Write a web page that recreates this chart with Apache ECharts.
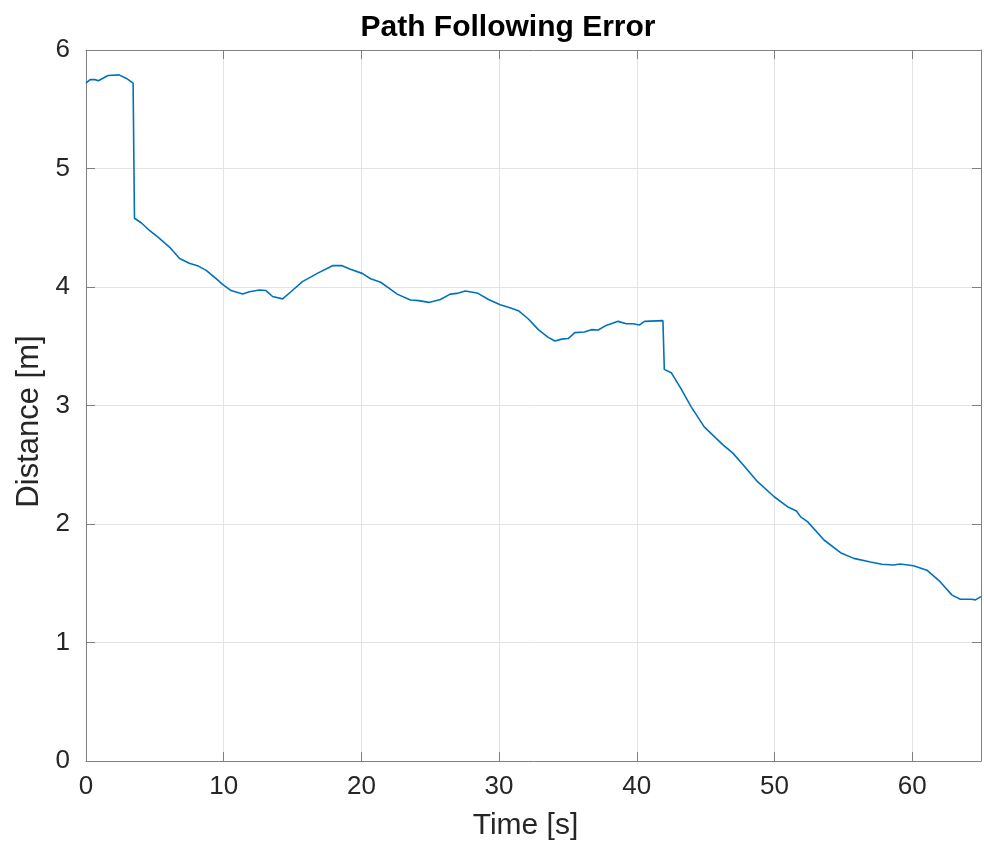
<!DOCTYPE html>
<html>
<head>
<meta charset="utf-8">
<script src="https://cdn.jsdelivr.net/npm/echarts@6/dist/echarts.min.js"></script>
<style>
html,body{margin:0;padding:0;background:#fff;}
#chart{width:984px;height:846px;}
</style>
</head>
<body>
<div id="chart"></div>
<script>
var timeS = [0, 0.3, 0.65, 0.9, 1.6, 2.4, 2.94, 3.42, 3.52, 4.03, 4.63, 5.23, 6.08, 6.8, 7.5, 8.1, 8.73, 9.45, 9.94, 10.54, 11.38, 11.87, 12.6, 13.07, 13.55, 14.28, 14.88, 15.72, 16.8, 17.9, 18.6, 19.2, 20.06, 20.67, 21.4, 22.0, 22.6, 23.56, 24.17, 24.9, 25.74, 26.45, 26.94, 27.54, 28.4, 29.24, 30.08, 30.68, 31.4, 32.13, 32.85, 33.57, 34.06, 34.54, 35.02, 35.5, 36.2, 36.7, 37.2, 37.68, 38.64, 39.24, 39.72, 40.2, 40.57, 41.9, 42.0, 42.5, 43.2, 43.94, 44.9, 46.24, 46.96, 47.8, 48.77, 49.98, 50.94, 51.6, 51.9, 52.4, 53.6, 54.8, 55.76, 56.97, 57.8, 58.65, 59.13, 60.1, 61.07, 62.03, 62.9, 63.5, 64.3, 64.6, 65];
var distanceM = [5.72, 5.75, 5.75, 5.74, 5.785, 5.79, 5.76, 5.72, 4.58, 4.54, 4.475, 4.42, 4.335, 4.24, 4.20, 4.18, 4.14, 4.07, 4.02, 3.97, 3.94, 3.96, 3.975, 3.97, 3.92, 3.90, 3.96, 4.045, 4.115, 4.18, 4.18, 4.15, 4.115, 4.07, 4.04, 3.99, 3.94, 3.89, 3.885, 3.87, 3.895, 3.94, 3.946, 3.966, 3.95, 3.895, 3.85, 3.83, 3.80, 3.73, 3.64, 3.575, 3.545, 3.56, 3.565, 3.615, 3.62, 3.64, 3.637, 3.67, 3.71, 3.69, 3.69, 3.68, 3.71, 3.716, 3.305, 3.277, 3.145, 2.99, 2.82, 2.67, 2.60, 2.49, 2.357, 2.23, 2.146, 2.11, 2.06, 2.02, 1.865, 1.758, 1.71, 1.68, 1.66, 1.654, 1.662, 1.648, 1.61, 1.513, 1.40, 1.365, 1.365, 1.36, 1.387];
var xTicks = [0, 10, 20, 30, 40, 50, 60];
var yTicks = [0, 1, 2, 3, 4, 5, 6];

var FONT = '"Liberation Sans", Arial, Helvetica, sans-serif';
var points = timeS.map(function (t, i) { return [t, distanceM[i]]; });

var axisLineStyle = { color: '#808080', width: 1 };
var gridLineStyle = { color: '#e3e3e3', width: 1 };

var chart = echarts.init(document.getElementById('chart'), null, { renderer: 'canvas' });
chart.setOption({
  animation: false,
  backgroundColor: '#ffffff',
  title: {
    text: 'Path Following Error',
    left: 508,
    top: 13,
    textAlign: 'center',
    padding: 0,
    textStyle: { fontFamily: FONT, fontSize: 30, fontWeight: 'bold', color: '#000000' }
  },
  grid: { left: 86, top: 50, right: 0, bottom: 85, containLabel: false },
  xAxis: [{
    type: 'value', min: 0, max: 65, interval: 10,
    name: 'Time [s]', nameLocation: 'middle', nameGap: 50,
    nameTextStyle: { fontFamily: FONT, fontSize: 30, color: '#262626', padding: [0, 16, 0, 0] },
    axisLine: { show: true, onZero: false, lineStyle: axisLineStyle },
    axisTick: { show: true, inside: true, length: 9, lineStyle: axisLineStyle },
    axisLabel: { fontFamily: FONT, fontSize: 26, color: '#262626', margin: 13,
      formatter: function (v) { return xTicks.indexOf(v) >= 0 ? String(v) : ''; } },
    splitLine: { show: true, lineStyle: gridLineStyle }
  }, {
    type: 'value', position: 'top', min: 0, max: 65, interval: 10,
    axisLine: { show: true, onZero: false, lineStyle: axisLineStyle },
    axisTick: { show: true, inside: true, length: 9, lineStyle: axisLineStyle },
    axisLabel: { show: false },
    splitLine: { show: false }
  }],
  yAxis: [{
    type: 'value', min: 0, max: 6, interval: 1,
    name: 'Distance [m]', nameLocation: 'middle', nameGap: 40, nameRotate: 90,
    nameTextStyle: { fontFamily: FONT, fontSize: 31, color: '#262626', padding: [0, 32, 0, 0] },
    axisLine: { show: true, onZero: false, lineStyle: axisLineStyle },
    axisTick: { show: true, inside: true, length: 9, lineStyle: axisLineStyle },
    axisLabel: { fontFamily: FONT, fontSize: 26, color: '#262626', margin: 16,
      formatter: function (v) { return yTicks.indexOf(v) >= 0 ? String(v) : ''; } },
    splitLine: { show: true, lineStyle: gridLineStyle }
  }, {
    type: 'value', position: 'right', min: 0, max: 6, interval: 1,
    axisLine: { show: true, onZero: false, lineStyle: axisLineStyle },
    axisTick: { show: true, inside: true, length: 9, lineStyle: axisLineStyle },
    axisLabel: { show: false },
    splitLine: { show: false }
  }],
  series: [{
    type: 'line',
    data: points,
    xAxisIndex: 0, yAxisIndex: 0,
    showSymbol: false,
    symbol: 'none',
    smooth: false,
    lineStyle: { color: '#0072BD', width: 1.6 },
    z: 5
  }]
});
</script>
</body>
</html>
